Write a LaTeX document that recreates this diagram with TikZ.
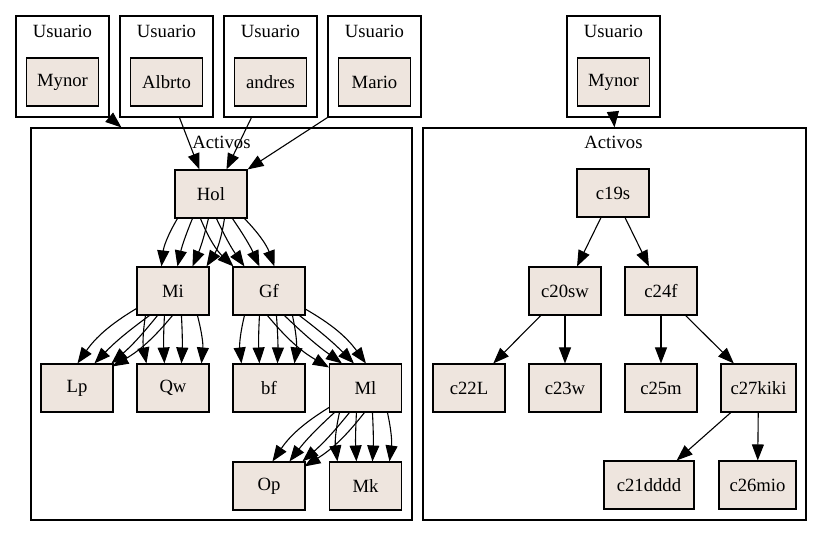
\documentclass[tikz,border=0pt]{standalone}
\usepackage{fontspec}
\newfontfamily\tmsfont{Liberation Serif}[Scale=1.0]
\usetikzlibrary{arrows.meta,calc}
\definecolor{shell}{HTML}{EEE5DE}
\begin{document}
\begin{tikzpicture}[x=1pt,y=-1pt,
  box/.style={draw, fill=shell, line width=1.1pt, minimum width=72pt, minimum height=48pt, inner sep=0pt, font=\tmsfont\fontsize{18.67}{22}\selectfont},
  clus/.style={draw, line width=1.1pt, inner sep=0pt},
  lab/.style={inner sep=0pt, font=\tmsfont\fontsize{18.67}{22}\selectfont},
  edge/.style={line width=1.1pt, -{Triangle[length=16pt,width=12pt]}}]
\useasboundingbox (0,0) rectangle (823,537);
% clusters
\node[clus, minimum width=93pt, minimum height=101pt] (u1) at (62.5,66.5) {};
\node[clus, minimum width=93pt, minimum height=101pt] (u2) at (166.5,66.5) {};
\node[clus, minimum width=93pt, minimum height=101pt] (u3) at (270.5,66.5) {};
\node[clus, minimum width=93pt, minimum height=101pt] (u4) at (374.5,66.5) {};
\node[clus, minimum width=93pt, minimum height=101pt] (u5) at (613.5,66.5) {};
\node[clus, minimum width=381pt, minimum height=392pt] (A1) at (221.5,324) {};
\node[clus, minimum width=383pt, minimum height=392pt] (A2) at (614.5,324) {};
\node[lab] (l1) at (62.5,31) {Usuario};
\node[lab] (l2) at (166.5,31) {Usuario};
\node[lab] (l3) at (270.5,31) {Usuario};
\node[lab] (l4) at (374.5,31) {Usuario};
\node[lab] (l5) at (613.5,31) {Usuario};
\node[lab] (la1) at (221.5,142) {Activos};
\node[lab] (la2) at (613.5,142) {Activos};
% user nodes
\node[box] (My1) at (62.5,82) {Mynor};
\node[box] (Al) at (166.5,82) {Albrto};
\node[box] (An) at (270.5,82) {andres};
\node[box] (Ma) at (374.5,82) {Mario};
\node[box] (My2) at (613.5,82) {Mynor};
% left assets
\node[box] (Hol) at (211,194) {Hol};
\node[box] (Mi) at (173,291) {Mi};
\node[box] (Gf) at (269,291) {Gf};
\node[box] (Lp) at (77,388) {Lp};
\node[box] (Qw) at (173,388) {Qw};
\node[box] (bf) at (269,388) {bf};
\node[box] (Ml) at (365.5,388) {Ml};
\node[box] (Op) at (269,486) {Op};
\node[box] (Mk) at (365.5,486) {Mk};
% right assets
\node[box] (c19s) at (613,193) {c19s};
\node[box] (c20sw) at (565,291) {c20sw};
\node[box] (c24f) at (661,291) {c24f};
\node[box] (c22L) at (469,388) {c22L};
\node[box] (c23w) at (565,388) {c23w};
\node[box] (c25m) at (661,388) {c25m};
\node[box, minimum width=75pt] (c27kiki) at (758.5,388) {c27kiki};
\node[box, minimum width=90pt] (c21dddd) at (649,485) {c21dddd};
\node[box, minimum width=77pt] (c26mio) at (757.5,485) {c26mio};
% user edges
\draw[edge] (u1.south east) -- ($(A1.north west)+(91,0)$);
\draw[edge] ($(u2.south west)+(60,0)$) -- ($(Hol.north west)+(25,0)$);
\draw[edge] ($(u3.south west)+(28,0)$) -- ($(Hol.north west)+(52,0)$);
\draw[edge] (u4.south west) -- (Hol.north east);
\draw[edge] (u5.south) -- (A2.north);
% Hol -> Mi
\draw[edge] ($(Hol.south west)+(3,0)$) to[bend right=12] ($(Mi.north west)+(25,0)$);
\draw[edge] ($(Hol.south west)+(18,0)$) to[bend right=5] ($(Mi.north west)+(41,0)$);
\draw[edge] ($(Hol.south west)+(34,0)$) to[bend left=5] ($(Mi.north west)+(56,0)$);
\draw[edge] ($(Hol.south west)+(50,0)$) to[bend left=12] ($(Mi.north west)+(70,0)$);
% Hol -> Gf
\draw[edge] ($(Hol.south west)+(26,0)$) to[bend right=12] ($(Gf.north west)+(1,0)$);
\draw[edge] ($(Hol.south west)+(42,0)$) to[bend right=5] ($(Gf.north west)+(12,0)$);
\draw[edge] ($(Hol.south west)+(58,0)$) to[bend left=5] ($(Gf.north west)+(27,0)$);
\draw[edge] ($(Hol.south west)+(70,0)$) to[bend left=12] ($(Gf.north west)+(42,0)$);
% Mi -> Lp
\draw[edge] ($(Mi.south west)+(0,-7)$) to[bend right=12] ($(Lp.north west)+(37,0)$);
\draw[edge] ($(Mi.south west)+(13,0)$) to[bend right=5] ($(Lp.north west)+(54,0)$);
\draw[edge] ($(Mi.south west)+(21,0)$) to[bend left=5] ($(Lp.north west)+(71,0)$);
\draw[edge] ($(Mi.south west)+(36,0)$) to[bend left=10] ($(Lp.north west)+(72,3)$);
% Mi -> Qw
\draw[edge] ($(Mi.south west)+(9,0)$) to[bend right=10] ($(Qw.north west)+(10,0)$);
\draw[edge] ($(Mi.south west)+(28,0)$) to[bend right=3] ($(Qw.north west)+(28,0)$);
\draw[edge] ($(Mi.south west)+(45,0)$) to[bend left=3] ($(Qw.north west)+(45,0)$);
\draw[edge] ($(Mi.south west)+(61,0)$) to[bend left=10] ($(Qw.north west)+(65,0)$);
% Gf -> bf
\draw[edge] ($(Gf.south west)+(12,0)$) to[bend right=10] ($(bf.north west)+(9,0)$);
\draw[edge] ($(Gf.south west)+(27,0)$) to[bend right=3] ($(bf.north west)+(27,0)$);
\draw[edge] ($(Gf.south west)+(44,0)$) to[bend left=3] ($(bf.north west)+(45,0)$);
\draw[edge] ($(Gf.south west)+(60,0)$) to[bend left=10] ($(bf.north west)+(62,0)$);
% Gf -> Ml
\draw[edge] ($(Gf.south west)+(35,0)$) to[bend right=10] ($(Ml.north west)+(0,4)$);
\draw[edge] ($(Gf.south west)+(52,0)$) to[bend right=4] ($(Ml.north west)+(13,0)$);
\draw[edge] ($(Gf.south west)+(67,0)$) to[bend left=4] ($(Ml.north west)+(25,0)$);
\draw[edge] ($(Gf.south west)+(72,-7)$) to[bend left=12] ($(Ml.north west)+(37,0)$);
% Ml -> Op
\draw[edge] ($(Ml.south west)+(0,-5)$) to[bend right=12] ($(Op.north west)+(40,0)$);
\draw[edge] ($(Ml.south west)+(5.5,0)$) to[bend right=5] ($(Op.north west)+(57,0)$);
\draw[edge] ($(Ml.south west)+(20.5,0)$) to[bend left=5] ($(Op.north west)+(70,0)$);
\draw[edge] ($(Ml.south west)+(35.5,0)$) to[bend left=10] ($(Op.north west)+(72,5)$);
% Ml -> Mk
\draw[edge] ($(Ml.south west)+(10.5,0)$) to[bend right=10] ($(Mk.north west)+(8.5,0)$);
\draw[edge] ($(Ml.south west)+(27.5,0)$) to[bend right=3] ($(Mk.north west)+(27.5,0)$);
\draw[edge] ($(Ml.south west)+(43.5,0)$) to[bend left=3] ($(Mk.north west)+(43.5,0)$);
\draw[edge] ($(Ml.south west)+(58.5,0)$) to[bend left=10] ($(Mk.north west)+(60.5,0)$);
% right edges
\draw[edge] (c19s) -- (c20sw);
\draw[edge] (c19s) -- (c24f);
\draw[edge] (c20sw) -- (c22L);
\draw[edge] (c20sw) -- (c23w);
\draw[edge] (c24f) -- (c25m);
\draw[edge] (c24f) -- (c27kiki);
\draw[edge] (c27kiki) -- (c21dddd);
\draw[edge] (c27kiki) -- (c26mio);
\end{tikzpicture}
\end{document}
